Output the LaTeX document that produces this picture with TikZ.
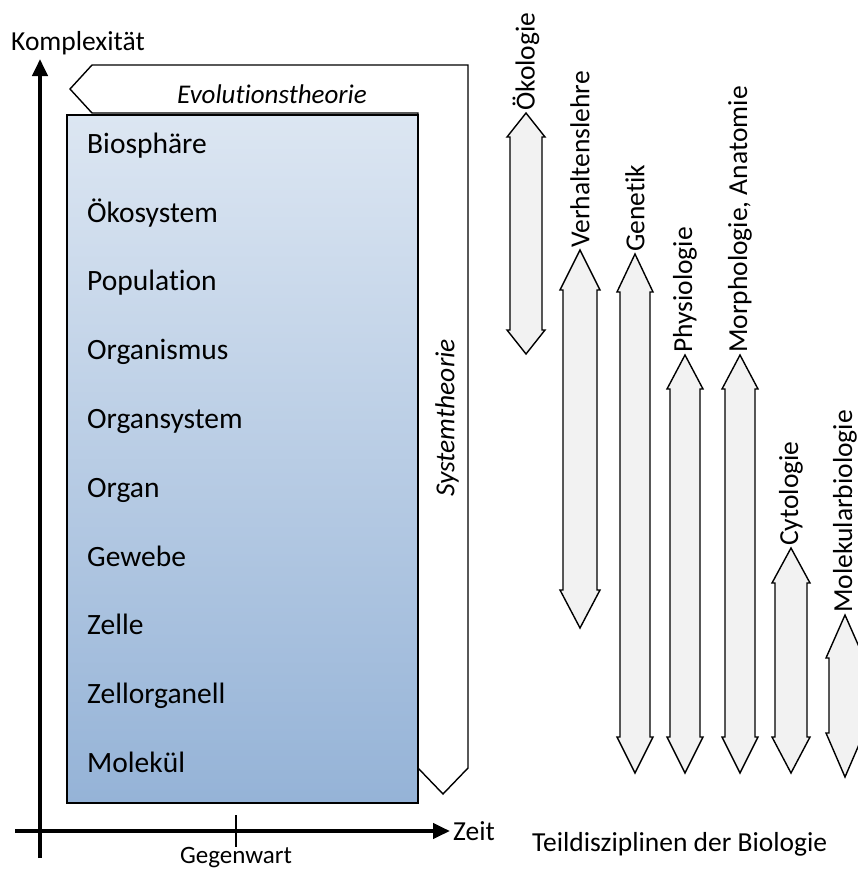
\documentclass[tikz,border=0pt]{standalone}
\usepackage{fontspec}
\setmainfont{Carlito}[Ligatures=NoCommon]
\usetikzlibrary{arrows.meta}
\definecolor{boxtop}{RGB}{220,230,242}
\definecolor{boxbot}{RGB}{149,179,215}
\definecolor{arrfill}{RGB}{242,242,242}
\newcommand{\dblarrow}[8]{%
  % #1 name, #2 cx, #3 half shaft, #4 half head, #5 top tip, #6 top shoulder, #7 bottom shoulder, #8 bottom tip
  \draw[blockarrow] ({#2},{#5}) -- ({#2+#4},{#6}) -- ({#2+#3},{#6}) -- ({#2+#3},{#7}) -- ({#2+#4},{#7})
    -- ({#2},{#8}) -- ({#2-#4},{#7}) -- ({#2-#3},{#7}) -- ({#2-#3},{#6}) -- ({#2-#4},{#6}) -- cycle;
  \coordinate (#1) at ({#2},{#5});
}
\tikzset{
  blockarrow/.style={draw=black, fill=arrfill, line width=1.4pt, line join=miter},
  lbl/.style={font=\fontsize{27.5}{30}\selectfont, inner sep=0pt},
  boxlbl/.style={font=\fontsize{29.5}{32}\selectfont, inner sep=0pt, anchor=base west},
  arrlbl/.style={font=\fontsize{27.5}{30}\selectfont, rotate=90, anchor=west, inner sep=2pt},
  axis/.style={line width=4pt, -{Triangle[width=15pt,length=17pt]}},
}
\begin{document}
\begin{tikzpicture}[x=1pt,y=-1pt]
\useasboundingbox (0,0) rectangle (858,891);
% theory outline
\draw[line width=1.4pt, fill=white] (70,89) -- (92,65) -- (468,65) -- (468,768) -- (443,794) -- (418,768) -- (418,113) -- (92,113) -- cycle;
\node[lbl, font=\fontsize{27}{30}\selectfont\itshape, anchor=base] (evo) at (272,103) {Evolutionstheorie};
\node[lbl, font=\fontsize{27.5}{30}\selectfont\itshape, rotate=90, anchor=center] (sys) at (447,418) {Systemtheorie};
% levels box
\shade[top color=boxtop, bottom color=boxbot, draw=black, line width=2pt] (67,115) rectangle (418,803);
\coordinate (box) at (67,115);
\node[boxlbl] (l1) at (87,153) {Biosphäre};
\node[boxlbl] (l2) at (87,222) {Ökosystem};
\node[boxlbl] (l3) at (87,290) {Population};
\node[boxlbl] (l4) at (87,359) {Organismus};
\node[boxlbl] (l5) at (87,428) {Organsystem};
\node[boxlbl] (l6) at (87,497) {Organ};
\node[boxlbl] (l7) at (87,566) {Gewebe};
\node[boxlbl] (l8) at (87,634) {Zelle};
\node[boxlbl] (l9) at (87,703) {Zellorganell};
\node[boxlbl] (l10) at (87,772) {Molekül};
% axes
\coordinate (ybot) at (40,858);
\coordinate (ytop) at (40,59);
\coordinate (xl) at (15,831);
\coordinate (xr) at (450,831);
\draw[axis] (ybot) -- (ytop);
\draw[axis] (xl) -- (xr);
\coordinate (t1) at (236,815);
\coordinate (t2) at (236,847);
\draw[line width=1.4pt] (t1) -- (t2);
\node[lbl, anchor=base west] (kompl) at (11,51) {Komplexität};
\node[lbl, anchor=base west] (zeit) at (453,840) {Zeit};
\node[lbl, font=\fontsize{25}{28}\selectfont, anchor=base] (gegen) at (236,863) {Gegenwart};
% disciplines
\dblarrow{a1}{526}{16}{19}{113}{137}{330}{354}
\dblarrow{a2}{580}{17}{20}{250}{290}{590}{628}
\dblarrow{a3}{635}{15}{18}{254}{292}{737}{773}
\dblarrow{a4}{685}{15}{18}{355}{389}{737}{773}
\dblarrow{a5}{740}{15}{18}{355}{389}{737}{773}
\dblarrow{a6}{791}{16}{19}{548}{583}{737}{773}
\dblarrow{a7}{845}{16}{19}{615}{658}{733}{777}
\node[arrlbl] (n1) at (a1) {Ökologie};
\node[arrlbl] (n2) at (a2) {Verhaltenslehre};
\node[arrlbl] (n3) at (a3) {Genetik};
\node[arrlbl] (n4) at (a4) {Physiologie};
\node[arrlbl] (n5) at (a5) {Morphologie, Anatomie};
\node[arrlbl] (n6) at (a6) {Cytologie};
\node[arrlbl] (n7) at (a7) {Molekularbiologie};
\node[lbl, anchor=base west] (teil) at (532,851) {Teildisziplinen der Biologie};
\end{tikzpicture}
\end{document}
